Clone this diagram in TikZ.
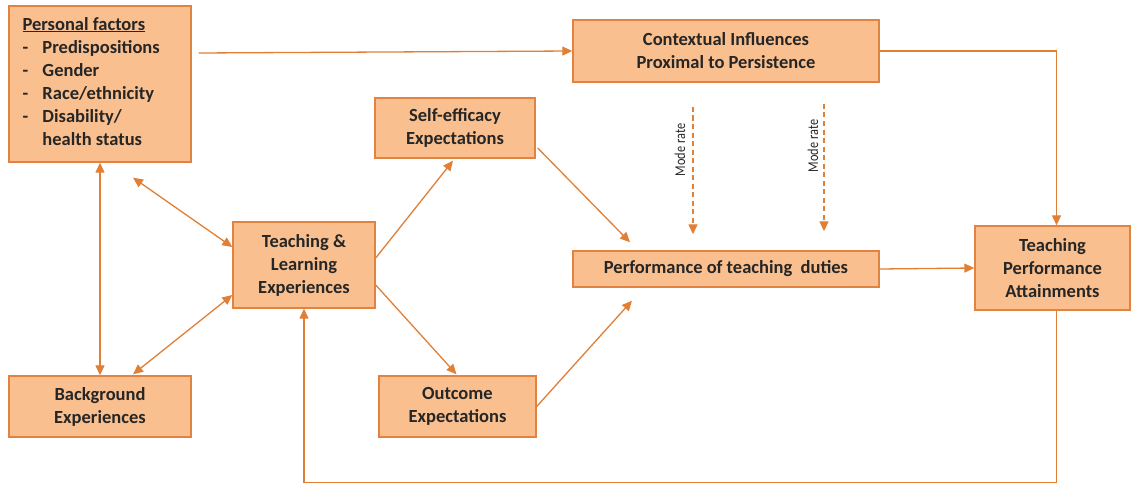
\documentclass[tikz,border=0pt]{standalone}
\usepackage{fontspec}
\setmainfont{Carlito}
\usetikzlibrary{arrows.meta,calc}
\definecolor{boxfill}{HTML}{F9BF8F}
\definecolor{boxline}{HTML}{E38341}
\definecolor{linkcol}{HTML}{E07F36}
\definecolor{txt}{HTML}{262626}
\begin{document}
\begin{tikzpicture}[x=1pt,y=-1pt,
  box/.style={draw=boxline, line width=1.4pt, fill=boxfill, text=txt,
    font=\fontsize{18.5}{23}\selectfont\bfseries, align=center, inner sep=0pt},
  link/.style={draw=linkcol, line width=1.3pt, -{Triangle[length=10pt,width=9pt]}},
  both/.style={link, {Triangle[length=10pt,width=9pt]}-{Triangle[length=10pt,width=9pt]}},
  modlink/.style={link, dash pattern=on 5pt off 3.5pt},
  modlabel/.style={rotate=90, text=txt, inner sep=0pt, font=\fontsize{15}{15}\selectfont}]
\useasboundingbox (0,0) rectangle (1131,484);

% boxes
\node[box, minimum width=182, minimum height=156] (pf) at (100,84) {};
\node[anchor=west, inner sep=0pt, text=txt, font=\fontsize{18.5}{23}\selectfont\bfseries]
  (pftext) at ($(pf.west)+(14,-1)$) {%
  \begin{tabular}{@{}p{20pt}@{}l@{}}
  \multicolumn{2}{@{}l@{}}{\underline{Personal factors}}\\
  - & Predispositions\\
  - & Gender\\
  - & Race/ethnicity\\
  - & Disability/\\
    & health status
  \end{tabular}};
\node[box, minimum width=306, minimum height=62] (ctx) at (726,51)
  {Contextual Influences\\Proximal to Persistence};
\node[box, minimum width=160, minimum height=60] (se) at (455,128)
  {Self-efficacy\\Expectations};
\node[box, minimum width=142, minimum height=86] (tl) at (304,265)
  {Teaching \&\\Learning\\Experiences};
\node[box, minimum width=157, minimum height=61] (oe) at (457.5,406.5)
  {Outcome\\Expectations};
\node[box, minimum width=182, minimum height=61] (bg) at (100,406.5)
  {Background\\Experiences};
\node[box, minimum width=306, minimum height=36] (perf) at (726,269)
  {Performance of teaching\ \ duties};
\node[box, minimum width=155, minimum height=84] (tpa) at (1052.5,268)
  {Teaching\\Performance\\Attainments};

% moderation labels and their dashed arrows
\coordinate (m1) at (693,107);
\coordinate (m2) at (824,104);
\node[modlabel] (ml1) at (680,150) {\scalebox{0.82}[1]{Mode rate}};
\node[modlabel] (ml2) at (813,146) {\scalebox{0.82}[1]{Mode rate}};
\draw[modlink] (m1) -- ($(perf.north)+(-33,-16)$);
\draw[modlink] (m2) -- ($(perf.north)+(98,-19)$);

% connectors
\draw[link] ($(pf.east)+(7,-31)$) -- (ctx.west);
\draw[link] (ctx.east) -| ($(tpa.north)+(4,0)$);
\draw[both] (pf.south) -- (bg.north);
\draw[both] ($(pf.south)+(33,15)$) -- ($(tl.west)+(0,-18)$);
\draw[both] ($(bg.north)+(33,-1)$) -- ($(tl.west)+(0,30)$);
\draw[link] ($(tl.east)+(0,-7)$) -- ($(se.south)+(-2,2)$);
\draw[link] ($(tl.east)+(0,20)$) -- ($(oe.north)+(-1,-1)$);
\draw[link] ($(se.east)+(2,20)$) -- ($(perf.north)+(-96,-8)$);
\draw[link] (oe.east) -- ($(perf.south)+(-94,13)$);
\draw[link] (perf.east) -- (tpa.west);
\draw[link] ($(tpa.south)+(4,0)$) -- ++(0,172) -| (tl.south);
\end{tikzpicture}
\end{document}
